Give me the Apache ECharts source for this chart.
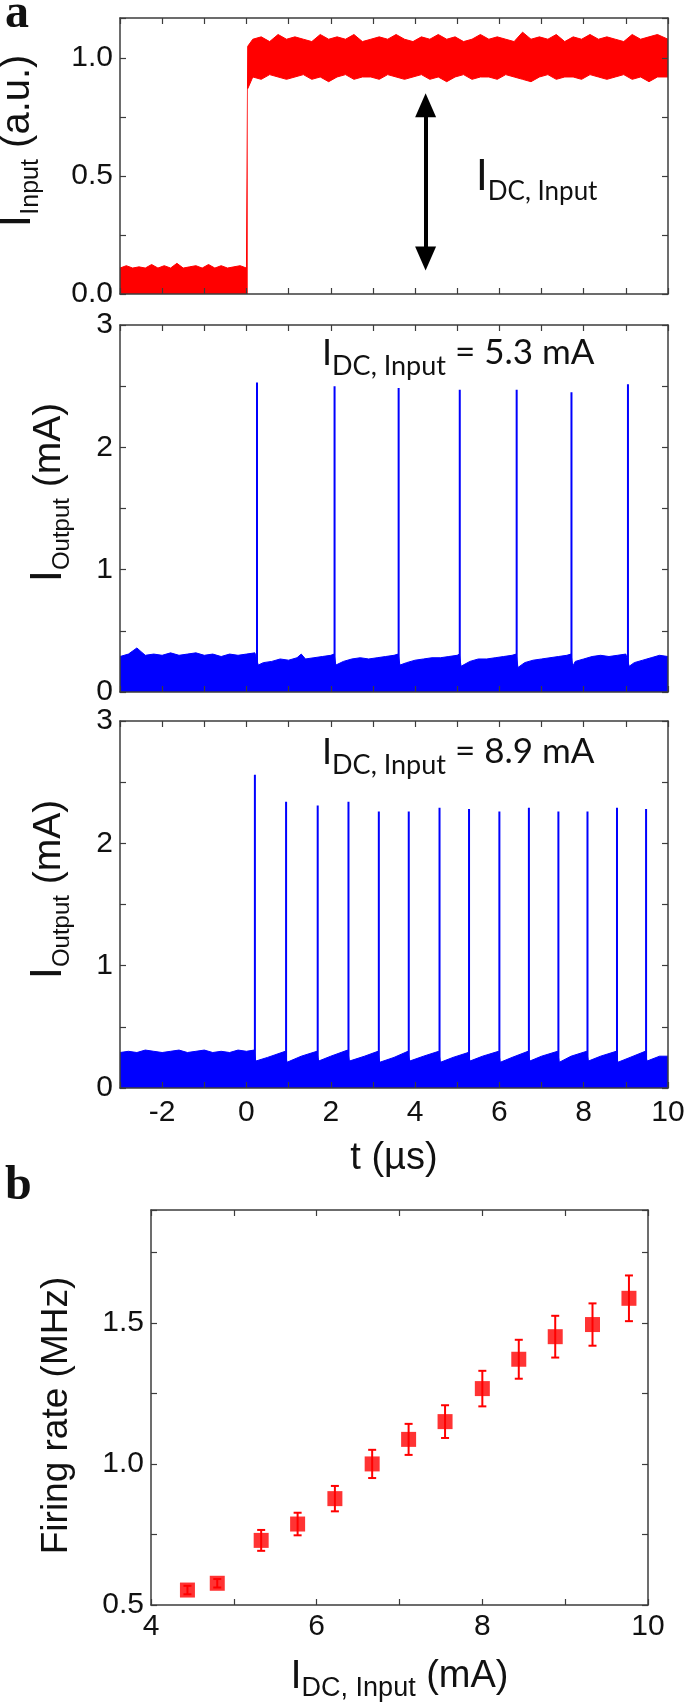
<!DOCTYPE html>
<html><head><meta charset="utf-8">
<script src="https://cdn.jsdelivr.net/npm/echarts@6/dist/echarts.min.js"></script>
<style>html,body{margin:0;padding:0;background:#fff}#c{width:685px;height:1708px}</style>
</head><body><div id="c"></div>
<script>
// ---------------- data ----------------
// panel a (top): normalised input current, noise band read as lower / upper envelope
const inT  = [-3,-2.85,-2.7,-2.55,-2.4,-2.25,-2.1,-1.95,-1.8,-1.65,-1.5,-1.35,-1.2,-1.05,-0.9,-0.75,-0.6,-0.45,-0.3,-0.15,0.0,
  0.03,0.15,0.35,0.55,0.75,0.95,1.15,1.35,1.55,1.75,1.95,2.15,2.35,2.55,2.75,2.95,3.15,3.35,3.55,3.75,3.95,4.15,4.35,4.55,4.75,4.95,
  5.15,5.35,5.55,5.75,5.95,6.15,6.35,6.55,6.75,6.95,7.15,7.35,7.55,7.75,7.95,8.15,8.35,8.55,8.75,8.95,9.15,9.35,9.55,9.75,10.0];
const inLo = [0,0,0,0,0,0,0,0,0,0,0,0,0,0,0,0,0,0,0,0,0,
  0.87,0.92,0.91,0.93,0.92,0.91,0.92,0.93,0.91,0.92,0.90,0.92,0.93,0.91,0.92,0.92,0.91,0.93,0.92,0.91,0.92,0.93,0.91,0.92,0.90,0.92,
  0.93,0.91,0.92,0.92,0.91,0.93,0.92,0.91,0.90,0.92,0.93,0.91,0.92,0.92,0.91,0.93,0.92,0.91,0.92,0.93,0.91,0.92,0.90,0.92,0.92];
const inHi = [0.11,0.12,0.11,0.115,0.11,0.125,0.11,0.12,0.11,0.13,0.11,0.115,0.12,0.11,0.125,0.11,0.12,0.11,0.115,0.12,0.11,
  1.05,1.08,1.09,1.07,1.10,1.08,1.09,1.08,1.07,1.10,1.08,1.09,1.08,1.10,1.07,1.08,1.09,1.08,1.10,1.08,1.07,1.09,1.08,1.10,1.08,1.09,
  1.07,1.08,1.10,1.08,1.09,1.08,1.07,1.11,1.08,1.09,1.08,1.10,1.07,1.09,1.08,1.10,1.08,1.09,1.08,1.07,1.10,1.08,1.09,1.10,1.08];
const arrowT = 4.25, arrowLo = 0.15, arrowHi = 0.80;

// panel a (middle): I_DC,Input = 5.3 mA
const base53T = [-3,-2.8,-2.6,-2.5,-2.4,-2.2,-2.0,-1.8,-1.6,-1.4,-1.2,-1.0,-0.8,-0.6,-0.4,-0.2,0.0,0.2,0.24,0.28,0.4,0.6,0.8,1.0,1.2,1.3,1.4,1.6,1.8,2.0,2.08,
  2.12,2.3,2.5,2.7,2.9,3.1,3.3,3.5,3.6,3.64,3.8,4.0,4.2,4.4,4.6,4.8,5.0,5.05,5.09,5.3,5.5,5.7,5.9,6.1,6.3,6.4,6.44,6.6,6.8,7.0,7.2,7.4,7.6,7.7,
  7.74,7.8,8.0,8.2,8.4,8.6,8.8,9.0,9.04,9.08,9.2,9.4,9.6,9.8,10.0];
const base53V = [0.29,0.31,0.36,0.33,0.30,0.31,0.30,0.32,0.30,0.31,0.32,0.30,0.31,0.29,0.31,0.30,0.31,0.32,0.33,0.22,0.24,0.25,0.27,0.26,0.28,0.31,0.27,0.28,0.29,0.30,0.31,
  0.22,0.25,0.27,0.28,0.27,0.28,0.29,0.30,0.31,0.22,0.24,0.26,0.27,0.28,0.28,0.29,0.30,0.31,0.21,0.25,0.27,0.27,0.28,0.29,0.30,0.31,0.20,0.24,0.26,0.27,0.28,0.29,0.30,0.31,
  0.21,0.25,0.27,0.29,0.30,0.29,0.30,0.31,0.32,0.21,0.24,0.26,0.28,0.30,0.29];
const spike53T = [0.25,2.09,3.61,5.06,6.41,7.71,9.05];
const spike53V = [2.53,2.50,2.485,2.47,2.47,2.45,2.515];

// panel a (bottom): I_DC,Input = 8.9 mA
const base89T = [-3,-2.8,-2.6,-2.4,-2.2,-2.0,-1.8,-1.6,-1.4,-1.2,-1.0,-0.8,-0.6,-0.4,-0.2,0.0,0.18,
  0.22,0.5,0.92,0.96,1.3,1.67,1.71,2.0,2.40,2.44,2.8,3.12,3.16,3.5,3.83,3.87,4.2,4.56,4.60,4.9,5.26,5.30,5.6,
  5.98,6.02,6.3,6.68,6.72,7.0,7.38,7.42,7.7,8.07,8.11,8.4,8.77,8.81,9.1,9.46,9.50,9.8,10.0];
const base89V = [0.29,0.30,0.29,0.31,0.30,0.29,0.30,0.31,0.29,0.30,0.31,0.29,0.30,0.29,0.31,0.30,0.31,
  0.22,0.25,0.30,0.21,0.26,0.30,0.22,0.26,0.31,0.22,0.26,0.30,0.21,0.25,0.30,0.22,0.26,0.30,0.21,0.25,0.29,0.22,0.26,
  0.30,0.21,0.25,0.30,0.22,0.26,0.30,0.21,0.26,0.30,0.22,0.26,0.30,0.21,0.25,0.30,0.22,0.26,0.26];
const spike89T = [0.20,0.94,1.69,2.42,3.14,3.85,4.58,5.28,6.00,6.70,7.40,8.09,8.79,9.48];
const spike89V = [2.56,2.34,2.31,2.34,2.26,2.26,2.29,2.28,2.26,2.29,2.26,2.26,2.29,2.28];

// panel b: firing rate vs I_DC,Input
const rateI   = [4.44,4.80,5.33,5.77,6.22,6.67,7.11,7.55,8.00,8.44,8.88,9.33,9.77];
const rateF   = [0.553,0.577,0.729,0.787,0.877,1.000,1.087,1.150,1.267,1.371,1.451,1.494,1.587];
const rateErr = [0.015,0.015,0.037,0.040,0.045,0.050,0.055,0.058,0.063,0.069,0.074,0.075,0.081];

// ---------------- chart ----------------
const AX = '#3c3c3c';
const SANS = '"Liberation Sans", Arial, sans-serif';
const LATO = 'Lato, "Open Sans", sans-serif';
const chart = echarts.init(document.getElementById('c'), null, {renderer: 'canvas'});

const gridBase = {containLabel: false, outerBoundsMode: 'none'};
const grids = [
  Object.assign({left: 120, right: 17, top: 18, height: 276}, gridBase),
  Object.assign({left: 120, right: 17, top: 325, height: 367}, gridBase),
  Object.assign({left: 120, right: 17, top: 721, height: 367}, gridBase),
  Object.assign({left: 151, right: 37, top: 1210, height: 395}, gridBase)
];
const tick = {show: true, inside: true, length: 6, lineStyle: {color: AX, width: 1.2}};
const line = {show: true, onZero: false, lineStyle: {color: AX, width: 1.5}};
const noLab = {show: false};
const evenFmt = v => (Math.abs(v % 2) < 1e-9 ? String(v) : '');

function xPair(g, min, max, interval, labels, margin, extra) {
  return [
    Object.assign({type: 'value', gridIndex: g, position: 'bottom', min, max, interval, z: 10, nameMoveOverlap: false,
      axisLine: line, axisTick: tick, splitLine: {show: false},
      axisLabel: labels ? {show: true, formatter: evenFmt, fontFamily: SANS, fontSize: 30, color: '#111', margin: margin, showMinLabel: true, showMaxLabel: true} : noLab}, extra || {}),
    {type: 'value', gridIndex: g, position: 'top', min, max, interval, z: 10,
      axisLine: line, axisTick: tick, splitLine: {show: false}, axisLabel: noLab}
  ];
}
function yPair(g, min, max, interval, fmt, extra) {
  return [
    Object.assign({type: 'value', gridIndex: g, position: 'left', min, max, interval, z: 10, nameMoveOverlap: false,
      axisLine: line, axisTick: tick, splitLine: {show: false},
      axisLabel: {show: true, formatter: fmt, fontFamily: SANS, fontSize: 30, color: '#111', margin: 7, showMaxLabel: true}}, extra || {}),
    {type: 'value', gridIndex: g, position: 'right', min, max, interval, z: 10,
      axisLine: line, axisTick: tick, splitLine: {show: false}, axisLabel: noLab}
  ];
}
const half1 = v => (Math.abs(v * 2 - Math.round(v * 2)) < 1e-6 && v < 1.05 ? v.toFixed(1) : '');
const intFmt = v => (Math.abs(v - Math.round(v)) < 1e-6 ? String(Math.round(v)) : '');
const halfB = v => (Math.abs(v * 2 - Math.round(v * 2)) < 1e-6 ? v.toFixed(1) : '');

const titleRich = (bigSz, subSz, nSz, padK) => ({
  b: {fontFamily: SANS, fontSize: bigSz, color: '#111'},
  s: {fontFamily: SANS, fontSize: subSz, color: '#111', padding: [Math.round(bigSz * (padK || 0.6)), 0, 0, 0]},
  n: {fontFamily: SANS, fontSize: nSz, color: '#111'}
});

const xAxes = [].concat(
  xPair(0, -3, 10, 1, false, 10),
  xPair(1, -3, 10, 1, false, 10),
  xPair(2, -3, 10, 1, true, 10, {name: 't (\u00b5s)', nameLocation: 'middle', nameGap: 52,
    nameTextStyle: {fontFamily: SANS, fontSize: 38, color: '#111'}}),
  xPair(3, 4, 10, 1, true, 7, {name: '{b|I}{s|DC, Input}{n| (mA)}', nameLocation: 'middle', nameGap: 46,
    nameTextStyle: {rich: titleRich(40, 27, 38)}})
);
const yAxes = [].concat(
  yPair(0, 0, 1.17, 0.25, half1, {name: '{b|I}{s|Input}{n| (a.u.)}', nameLocation: 'middle', nameGap: 76,
    nameTextStyle: {padding: [0, 0, 0, 30], rich: titleRich(46, 25, 40)}}),
  yPair(1, 0, 3, 0.5, intFmt, {name: '{b|I}{s|Output}{n| (mA)}', nameLocation: 'middle', nameGap: 46,
    nameTextStyle: {padding: [0, 0, 0, 32], rich: titleRich(44, 24, 39)}}),
  yPair(2, 0, 3, 0.5, intFmt, {name: '{b|I}{s|Output}{n| (mA)}', nameLocation: 'middle', nameGap: 46,
    nameTextStyle: {padding: [0, 0, 0, 30], rich: titleRich(44, 24, 39)}}),
  yPair(3, 0.5, 1.9, 0.25, halfB, {name: 'Firing rate (MHz)', nameLocation: 'middle', nameGap: 76,
    nameTextStyle: {padding: [0, 16, 0, 0], fontFamily: SANS, fontSize: 37, color: '#111'}})
);

function spikes(T, V) {
  const d = [];
  T.forEach((t, i) => { d.push([t, 0]); d.push([t, V[i]]); d.push([t, '-']); });
  return d;
}
const RED = '#ff0000', BLUE = '#0000ff';
const postIdx = inT.map((t, i) => i).filter(i => inLo[i] > 0);

const series = [
  {type: 'line', xAxisIndex: 0, yAxisIndex: 0, symbol: 'none', z: 2,
    data: inT.map((t, i) => [t, inHi[i]]), lineStyle: {color: RED, width: 1},
    areaStyle: {color: RED, opacity: 1, origin: 'start'}},
  {type: 'line', xAxisIndex: 0, yAxisIndex: 0, symbol: 'none', z: 3,
    data: postIdx.map(i => [inT[i], inLo[i]]), lineStyle: {color: RED, width: 1},
    areaStyle: {color: '#ffffff', opacity: 1, origin: 'start'}},
  {type: 'line', xAxisIndex: 0, yAxisIndex: 0, data: [], symbol: 'none', z: 5,
    markLine: {silent: true, symbol: ['triangle', 'triangle'], symbolSize: [21, 24], label: {show: false},
      lineStyle: {color: '#000', width: 4, type: 'solid'},
      data: [[{coord: [arrowT, arrowLo]}, {coord: [arrowT, arrowHi]}]]}},
  {type: 'line', xAxisIndex: 2, yAxisIndex: 2, symbol: 'none', z: 2,
    data: base53T.map((t, i) => [t, base53V[i]]), lineStyle: {color: BLUE, width: 1},
    areaStyle: {color: BLUE, opacity: 1, origin: 'start'}},
  {type: 'line', xAxisIndex: 2, yAxisIndex: 2, symbol: 'none', z: 3, connectNulls: false,
    data: spikes(spike53T, spike53V), lineStyle: {color: BLUE, width: 2}},
  {type: 'line', xAxisIndex: 4, yAxisIndex: 4, symbol: 'none', z: 2,
    data: base89T.map((t, i) => [t, base89V[i]]), lineStyle: {color: BLUE, width: 1},
    areaStyle: {color: BLUE, opacity: 1, origin: 'start'}},
  {type: 'line', xAxisIndex: 4, yAxisIndex: 4, symbol: 'none', z: 3, connectNulls: false,
    data: spikes(spike89T, spike89V), lineStyle: {color: BLUE, width: 2}},
  {type: 'custom', xAxisIndex: 6, yAxisIndex: 6, z: 3,
    data: rateI.map((x, i) => [x, rateF[i], rateErr[i]]),
    encode: {x: 0, y: 1},
    renderItem: (params, api) => {
      const x = api.value(0), y = api.value(1), e = api.value(2);
      const top = api.coord([x, y + e]), bot = api.coord([x, y - e]);
      const w = 4, st = {stroke: RED, lineWidth: 2};
      return {type: 'group', children: [
        {type: 'line', shape: {x1: top[0], y1: top[1], x2: bot[0], y2: bot[1]}, style: st},
        {type: 'line', shape: {x1: top[0] - w, y1: top[1], x2: top[0] + w, y2: top[1]}, style: st},
        {type: 'line', shape: {x1: bot[0] - w, y1: bot[1], x2: bot[0] + w, y2: bot[1]}, style: st}
      ]};
    }},
  {type: 'scatter', xAxisIndex: 6, yAxisIndex: 6, z: 4, symbol: 'rect', symbolSize: 15,
    data: rateI.map((x, i) => [x, rateF[i]]), itemStyle: {color: RED}}
];

const annRich = (bigSz, subSz, nSz) => ({
  b: {fontFamily: LATO, fontWeight: 'normal', fontSize: bigSz, color: '#111'},
  s: {fontFamily: LATO, fontWeight: 'normal', fontSize: subSz, color: '#111', padding: [Math.round(bigSz * 0.75), 0, 0, 0]},
  n: {fontFamily: LATO, fontWeight: 'normal', fontSize: nSz, color: '#111'}
});

const titles = [
  {text: 'a', left: 0, top: -14, textStyle: {fontFamily: '"Liberation Serif", serif', fontWeight: 'bold', fontSize: 48, color: '#111'}},
  {text: 'b', left: 0, top: 1158, textStyle: {fontFamily: '"Liberation Serif", serif', fontWeight: 'bold', fontSize: 48, color: '#111'}},
  {text: '{b|I}{s|DC, Input}', left: 471, top: 142, textStyle: {fontWeight: 'normal', rich: annRich(42, 26, 38)}},
  {text: '{b|I}{s|DC, Input}{n| = 5.3 mA}', left: 317, top: 321, textStyle: {fontWeight: 'normal', rich: annRich(36, 27, 35)}},
  {text: '{b|I}{s|DC, Input}{n| = 8.9 mA}', left: 317, top: 720, textStyle: {fontWeight: 'normal', rich: annRich(36, 27, 35)}}
];

chart.setOption({
  animation: false,
  backgroundColor: '#fff',
  title: titles,
  grid: grids,
  xAxis: xAxes,
  yAxis: yAxes,
  series: series
});
</script></body></html>
